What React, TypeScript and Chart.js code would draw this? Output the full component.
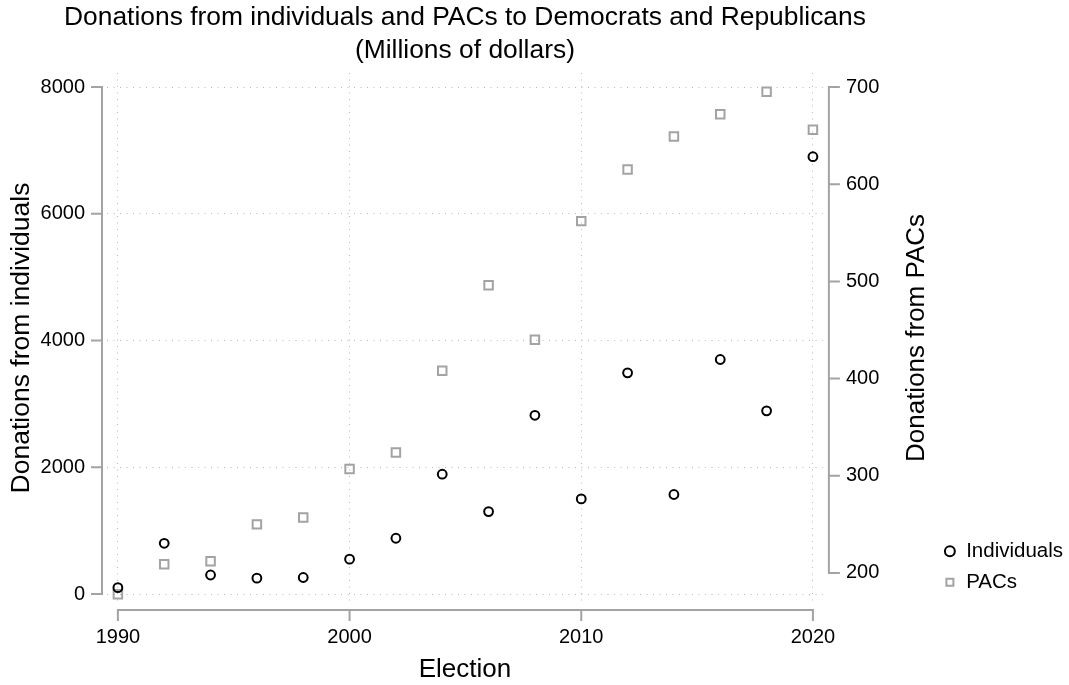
import React, { useEffect, useRef } from "react";
import { Chart, registerables } from "chart.js";

Chart.register(...registerables);

const years = [1990, 1992, 1994, 1996, 1998, 2000, 2002, 2004, 2006, 2008, 2010, 2012, 2014, 2016, 2018, 2020];
const individuals = [100, 800, 300, 250, 260, 550, 880, 1890, 1300, 2820, 1500, 3490, 1570, 3700, 2890, 6900];
const pacs = [178, 209, 212, 250, 257, 307, 324, 408, 496, 440, 562, 615, 649, 672, 695, 656];

const xTicks = [1990, 2000, 2010, 2020];
const leftTicks = [0, 2000, 4000, 6000, 8000];
const rightTicks = [200, 300, 400, 500, 600, 700];

const titleLines = ["Donations from individuals and PACs to Democrats and Republicans", "(Millions of dollars)"];
const xTitle = "Election";
const leftTitle = "Donations from individuals";
const rightTitle = "Donations from PACs";
const seriesNames = ["Individuals", "PACs"];

const FONT = "'Liberation Sans', Arial, sans-serif";
const AXIS_COLOR = "#a3a3a3";
const GRID_COLOR = "#b8b8b8";
const TEXT_COLOR = "#000000";

const stataAxes = {
  id: "stataAxes",
  afterDraw(chart: any) {
    const { ctx, chartArea, scales } = chart;
    const sx = scales.x, sy = scales.y, sy1 = scales.y1;
    ctx.save();
    ctx.strokeStyle = AXIS_COLOR;
    ctx.lineWidth = 2;
    ctx.lineCap = "square";
    ctx.lineJoin = "miter";
    const tick = 10;
    // left axis
    const lx = chartArea.left - 5;
    ctx.beginPath();
    ctx.moveTo(lx, sy.getPixelForValue(leftTicks[0]));
    ctx.lineTo(lx, sy.getPixelForValue(leftTicks[leftTicks.length - 1]));
    leftTicks.forEach((v) => {
      const p = sy.getPixelForValue(v);
      ctx.moveTo(lx, p);
      ctx.lineTo(lx - tick, p);
    });
    ctx.stroke();
    // right axis
    const rx = chartArea.right + 6;
    ctx.beginPath();
    ctx.moveTo(rx, sy1.getPixelForValue(rightTicks[0]));
    ctx.lineTo(rx, sy1.getPixelForValue(rightTicks[rightTicks.length - 1]));
    rightTicks.forEach((v) => {
      const p = sy1.getPixelForValue(v);
      ctx.moveTo(rx, p);
      ctx.lineTo(rx + tick, p);
    });
    ctx.stroke();
    // x axis
    const by = chartArea.bottom + 7;
    ctx.beginPath();
    ctx.moveTo(sx.getPixelForValue(xTicks[0]), by);
    ctx.lineTo(sx.getPixelForValue(xTicks[xTicks.length - 1]), by);
    xTicks.forEach((v) => {
      const p = sx.getPixelForValue(v);
      ctx.moveTo(p, by);
      ctx.lineTo(p, by + tick);
    });
    ctx.stroke();

    ctx.fillStyle = TEXT_COLOR;
    ctx.textAlign = "center";
    ctx.textBaseline = "middle";
    // chart title, centred over the plot region
    const cx = (chartArea.left + chartArea.right) / 2;
    ctx.font = `26.4px ${FONT}`;
    ctx.fillText(titleLines[0], cx, 17.5);
    ctx.fillText(titleLines[1], cx, 50.5);
    // right axis title (reads bottom-to-top)
    ctx.font = `26px ${FONT}`;
    ctx.translate(917, (chartArea.top + chartArea.bottom) / 2);
    ctx.rotate(-Math.PI / 2);
    ctx.fillText(rightTitle, 0, 0);
    ctx.restore();
  },
};

export default function App() {
  const ref = useRef<HTMLCanvasElement | null>(null);
  useEffect(() => {
    if (!ref.current) return;
    Chart.defaults.font.family = FONT;
    Chart.defaults.color = TEXT_COLOR;
    const chart = new Chart(ref.current, {
      type: "scatter",
      data: {
        datasets: [
          {
            label: seriesNames[0],
            data: years.map((y, i) => ({ x: y, y: individuals[i] })),
            yAxisID: "y",
            pointStyle: "circle",
            pointRadius: 4.4,
            pointHoverRadius: 4.4,
            pointBorderWidth: 2,
            borderWidth: 2,
            borderColor: "#000000",
            backgroundColor: "rgba(0,0,0,0)",
            showLine: false,
          },
          {
            label: seriesNames[1],
            data: years.map((y, i) => ({ x: y, y: pacs[i] })),
            yAxisID: "y1",
            pointStyle: "rect",
            pointRadius: 6,
            pointHoverRadius: 6,
            pointBorderWidth: 2,
            borderWidth: 2,
            borderColor: "#a3a3a3",
            backgroundColor: "rgba(0,0,0,0)",
            showLine: false,
          },
        ],
      },
      options: {
        animation: false,
        responsive: false,
        devicePixelRatio: 1,
        layout: { padding: { left: 0, right: -4, top: 73, bottom: 0 } },
        plugins: {
          title: { display: false },
          legend: {
            position: "right",
            align: "end",
            fullSize: false,
            labels: {
              usePointStyle: true,
              boxWidth: 12,
              boxHeight: 7,
              padding: 10.5,
              color: TEXT_COLOR,
              font: { size: 20.5 },
            },
          },
          tooltip: { enabled: false },
        },
        scales: {
          x: {
            type: "linear",
            position: "bottom",
            min: 1989.53,
            max: 2020.43,
            afterBuildTicks: (s: any) => {
              s.ticks = xTicks.map((v) => ({ value: v }));
            },
            afterFit: (s: any) => {
              s.height = 82;
            },
            ticks: { padding: 22, font: { size: 20 }, color: TEXT_COLOR, callback: (v: any) => String(v) },
            grid: { color: GRID_COLOR, lineWidth: 1, drawTicks: false },
            border: { display: false, dash: [1, 5.5] },
            title: { display: true, text: xTitle, font: { size: 26 }, color: TEXT_COLOR, padding: { top: 0, bottom: 0 } },
          },
          y: {
            type: "linear",
            position: "left",
            min: -142,
            max: 8221,
            afterBuildTicks: (s: any) => {
              s.ticks = leftTicks.map((v) => ({ value: v }));
            },
            afterFit: (s: any) => {
              s.width = 107;
            },
            ticks: { padding: 22, font: { size: 20 }, color: TEXT_COLOR, callback: (v: any) => String(v) },
            grid: { color: GRID_COLOR, lineWidth: 1, drawTicks: false },
            border: { display: false, dash: [1, 5.5] },
            title: { display: true, text: leftTitle, font: { size: 26.5 }, color: TEXT_COLOR, padding: { top: 6, bottom: 0 } },
          },
          y1: {
            type: "linear",
            position: "right",
            min: 169.1,
            max: 714.4,
            afterBuildTicks: (s: any) => {
              s.ticks = rightTicks.map((v) => ({ value: v }));
            },
            afterFit: (s: any) => {
              s.width = 110.5;
            },
            ticks: { padding: 23, font: { size: 20 }, color: TEXT_COLOR, callback: (v: any) => String(v) },
            grid: { display: false, drawTicks: false },
            border: { display: false },
            title: { display: false },
          },
        },
      },
      plugins: [stataAxes],
    } as any);
    return () => chart.destroy();
  }, []);
  return (
    <div style={{ position: "fixed", left: 0, top: 0, width: 1069, height: 685, background: "#ffffff" }}>
      <canvas ref={ref} width={1069} height={685} style={{ display: "block" }} />
    </div>
  );
}
